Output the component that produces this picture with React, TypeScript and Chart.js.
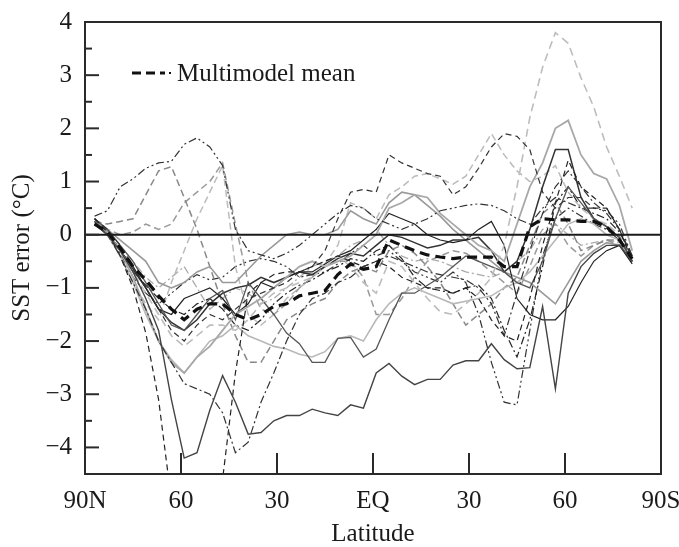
import React, { useEffect, useRef } from 'react';
import { Chart, registerables } from 'chart.js';

Chart.register(...registerables);

const FONT = "'Liberation Serif', 'Times New Roman', serif";
const FONT_SIZE = 25;

// Latitude of each sample (positive = north)
const latitudes = [87, 83, 79, 75, 71, 67, 63, 59, 55, 51, 47, 43, 39, 35, 31, 27, 23, 19, 15, 11, 7, 3, -1, -5, -9, -13, -17, -21, -25, -29, -33, -37, -41, -45, -49, -53, -57, -61, -65, -69, -73, -77, -81];

const xTickLabels = ['90N', '60', '30', 'EQ', '30', '60', '90S'];
const xTickDegrees = [0, 30, 60, 90, 120, 150, 180];
const yTickValues = [-4, -3, -2, -1, 0, 1, 2, 3, 4];

const multimodelMean = [0.2, 0.05, -0.25, -0.6, -0.85, -1.15, -1.4, -1.6, -1.4, -1.3,
  -1.3, -1.5, -1.6, -1.5, -1.35, -1.3, -1.15, -1.1, -1.05, -0.75,
  -0.55, -0.65, -0.6, -0.1, -0.2, -0.3, -0.38, -0.42, -0.45, -0.42,
  -0.42, -0.42, -0.6, -0.6, 0.15, 0.3, 0.28, 0.28, 0.25, 0.25,
  0.15, -0.1, -0.45];

const modelH = [0.2, 0.0, -0.3, -0.7, -1.2, -1.8, -3.1, -4.2, -4.1, -3.3,
  -2.65, -3.15, -3.75, -3.72, -3.5, -3.4, -3.4, -3.28, -3.35, -3.4,
  -3.2, -3.26, -2.6, -2.42, -2.66, -2.82, -2.72, -2.72, -2.45, -2.37,
  -2.37, -2.05, -2.35, -2.52, -2.5, -1.35, -2.9, -1.1, -0.6, -0.35,
  -0.2, -0.2, -0.5];

const modelG = [0.25, 0.0, -0.4, -0.9, -1.4, -2.0, -2.4, -2.8, -2.9, -3.0,
  -3.35, -4.1, -3.9, -3.15, -2.6, -2.0, -1.5, -1.2, -1.1, -0.9,
  -0.8, -0.6, -0.5, -0.4, -0.5, -0.6, -0.7, -0.75, -0.8, -0.85,
  -1.0, -1.3, -1.9, -1.1, -0.3, 0.4, 0.9, 1.2, 0.9, 0.6,
  0.4, 0.1, -0.4];

const modelF = [0.3, 0.05, -0.4, -1.0, -1.85, -3.1, -5.0, -6.0, -6.0, -5.8,
  -4.6, -2.6, -1.1, -0.9, -0.75, -0.7, -0.7, -0.6, -0.5, -0.4,
  -0.5, -0.6, -0.5, -0.6, -0.8, -0.9, -1.0, -1.0, -1.1, -1.0,
  -1.2, -1.6, -1.9, -2.0, -1.2, -0.2, 0.6, 1.4, 0.9, 0.7,
  0.5, 0.1, -0.5];

const modelC = [0.3, 0.1, -0.2, -0.6, -1.0, -1.4, -1.8, -2.0, -1.7, -1.5,
  -1.6, -1.4, -1.2, -1.1, -1.0, -0.9, -0.7, -0.6, -0.3, 0.3,
  0.8, 0.85, 0.8, 1.5, 1.35, 1.25, 1.15, 1.1, 0.75, 0.9,
  1.25, 1.65, 1.9, 1.85, 1.6, 0.8, 0.5, 0.7, 0.7, 0.5,
  0.5, 0.1, -0.45];

const modelD = [0.35, 0.45, 0.9, 1.05, 1.25, 1.35, 1.38, 1.7, 1.82, 1.65,
  1.3, 0.1, -0.3, -0.38, -0.45, -0.35, -0.2, 0.0, 0.2, 0.4,
  0.55, 0.5, 0.3, 0.2, 0.1, 0.2, 0.3, 0.45, 0.5, 0.55,
  0.58, 0.55, 0.45, 0.3, 0.2, 0.5, 0.7, 0.6, 0.5, 0.5,
  0.45, 0.2, -0.4];

const modelA = [0.2, 0.0, -0.3, -0.7, -1.1, -1.5, -1.9, -2.1, -1.9, -1.7,
  -1.7, -1.8, -1.6, -1.3, -1.1, -1.0, -0.9, -0.8, -0.6, -0.4,
  -0.6, -0.9, -1.1, -0.5, -0.6, -0.9, -1.2, -1.45, -1.5, -1.3,
  -1.1, -0.8, -0.2, 0.9, 2.2, 3.15, 3.8, 3.6, 2.95, 2.4,
  1.65, 1.1, 0.5];

const modelB = [0.25, 0.05, -0.3, -0.8, -1.4, -2.0, -2.4, -2.6, -2.3, -2.1,
  -1.8, -1.5, -1.35, -1.2, -1.0, -0.8, -0.6, -0.5, -0.6, -0.5,
  -0.4, -0.2, 0.0, 0.5, 0.6, 0.75, 0.7, 0.4, 0.2, 0.0,
  -0.2, -0.3, -0.5, 0.2, 0.9, 1.35, 2.0, 2.15, 1.5, 1.15,
  1.05, 0.55, -0.3];

const modelI = [0.3, 0.1, -0.2, -0.5, -0.9, -1.3, -1.7, -1.8, -1.5, -1.2,
  -1.05, -1.6, -0.9, -1.2, -1.5, -1.85, -2.05, -2.4, -2.4, -1.95,
  -1.93, -2.3, -2.15, -1.6, -1.1, -1.1, -0.95, -0.8, -0.6, -0.4,
  -0.5, -0.6, -0.7, -0.9, -1.0, -0.5, 0.3, 0.9, 0.6, 0.3,
  0.15, -0.05, -0.5];

const modelJ = [0.2, 0.0, -0.3, -0.6, -1.0, -1.4, -1.5, -1.2, -1.1, -1.0,
  -1.2, -1.5, -1.3, -0.9, -1.0, -0.8, -0.7, -0.7, -0.55, -0.4,
  -0.3, -0.1, 0.1, 0.4, 0.3, 0.2, 0.0, -0.1, -0.15, -0.1,
  0.1, 0.25, -0.2, -1.2, -1.5, -1.6, -1.6, -1.35, -0.9, -0.5,
  -0.3, -0.2, -0.55];

const modelK = [0.25, 0.05, -0.3, -0.65, -1.0, -1.4, -1.65, -1.8, -1.6, -1.3,
  -1.1, -1.0, -0.95, -0.8, -0.9, -0.8, -0.7, -0.75, -0.6, -0.45,
  -0.35, -0.4, -0.2, 0.0, -0.05, -0.15, -0.25, -0.2, -0.1, -0.1,
  -0.05, -0.3, -0.7, -0.5, 0.1, 0.9, 1.6, 1.6, 0.7, 0.3,
  0.15, -0.05, -0.5];

const modelL = [0.3, 0.1, -0.1, -0.3, -0.5, -0.9, -1.0, -0.9, -0.7, -0.6,
  -0.9, -0.9, -0.65, -0.4, -0.2, 0.0, 0.05, 0.0, 0.0, 0.1,
  0.45, 0.3, 0.2, 0.6, 0.8, 0.75, 0.55, 0.35, 0.1, -0.1,
  -0.3, -0.5, -0.7, -0.8, -0.9, -1.1, -1.3, -0.9, -0.5, -0.3,
  -0.15, -0.2, -0.5];

const modelM = [0.3, 0.0, -0.4, -0.9, -1.5, -2.0, -2.35, -2.6, -2.3, -2.0,
  -1.9, -1.7, -1.9, -2.0, -2.1, -2.15, -2.25, -2.3, -2.2, -1.95,
  -1.9, -2.0, -1.6, -1.3, -1.1, -1.0, -1.1, -1.2, -1.3, -1.25,
  -1.2, -1.15, -1.0, -0.9, -0.7, -0.4, -0.1, 0.2, 0.3, 0.2,
  0.0, -0.1, -0.5];

const modelE1 = [0.25, 0.2, 0.25, 0.3, 0.75, 1.2, 1.28, 0.7, 0.1, -0.6,
  -1.3, -1.9, -2.4, -2.4, -2.0, -1.6, -1.45, -1.3, -1.2, -0.9,
  -0.7, -0.6, -0.7, -0.3, -0.2, -0.35, -0.6, -0.9, -1.3, -1.7,
  -1.5, -1.3, -1.0, -0.8, -0.2, 0.4, 0.6, 0.2, -0.3, -0.2,
  -0.1, -0.1, -0.5];

const modelE2 = [0.25, 0.1, 0.0, 0.05, 0.2, 0.1, 0.2, 0.6, 0.8, 1.0,
  1.35, 0.2, -0.9, -1.4, -1.5, -1.3, -1.0, -0.8, -0.6, -0.5,
  -0.5, -0.8, -1.5, -1.5, -1.2, -0.8, -0.5, -0.4, -0.3, -0.35,
  -0.5, -0.7, -0.9, -1.1, -0.6, 0.0, 0.2, -0.2, -0.4, -0.2,
  -0.1, -0.2, -0.5];

const modelE3 = [0.2, 0.0, -0.4, -0.9, -1.3, -1.6, -0.9, -0.3, 0.3, 0.8,
  1.3, -0.6, -1.5, -1.7, -1.5, -1.2, -1.0, -0.8, -0.55, -0.2,
  0.6, 0.5, 0.3, 0.75, 0.9, 1.1, 1.15, 1.05, 0.95, 1.1,
  1.5, 1.9, 1.5, 1.2, 1.0, 1.1, 1.3, 0.8, 0.5, 0.3,
  0.2, 0.0, -0.5];

const modelN = [0.3, 0.1, -0.3, -0.7, -0.95, -1.2, -1.4, -1.5, -1.3, -1.2,
  -1.4, -1.7, -1.8, -1.6, -1.3, -1.1, -0.95, -0.85, -0.7, -0.6,
  -0.45, -0.5, -0.3, -0.2, -0.45, -0.8, -1.0, -1.05, -1.1, -1.0,
  -0.95, -1.2, -1.8, -2.3, -1.6, -0.6, 0.6, 0.9, 0.5, 0.4,
  0.3, 0.05, -0.4];

const modelO = [0.2, 0.0, -0.35, -0.8, -1.1, -1.3, -1.1, -0.9, -0.75, -0.85,
  -0.8, -0.6, -0.5, -0.45, -0.5, -0.6, -0.8, -0.75, -0.7, -0.55,
  -0.35, -0.2, -0.4, -0.3, -0.5, -0.7, -0.8, -0.9, -0.7, -0.9,
  -1.5, -2.4, -3.15, -3.2, -1.8, -0.4, 0.3, 0.5, 0.35, 0.2,
  0.1, -0.1, -0.5];

const modelQ = [0.3, 0.1, -0.2, -0.5, -0.8, -1.0, -0.8, -0.6, -1.0, -1.4,
  -1.2, -1.0, -1.1, -1.3, -1.2, -1.0, -0.8, -0.6, -0.5, -0.4,
  -0.2, -0.1, 0.1, -0.2, -0.4, -0.5, -0.45, -0.5, -0.6, -0.7,
  -0.75, -0.8, -0.7, -0.5, -0.3, 0.1, 0.2, 0.0, -0.2, -0.15,
  -0.1, -0.15, -0.5];

const DASH = [7, 4];
const DASHDOT = [8, 3, 2, 3];
const DASHDOTDOT = [8, 3, 2, 3, 2, 3];

const seriesList = [
  { label: 'Multimodel mean', values: multimodelMean, color: '#111', width: 3.2, dash: [10, 6] },
  { label: 'H', values: modelH, color: '#444', width: 1.4, dash: [] },
  { label: 'G', values: modelG, color: '#333', width: 1.2, dash: DASHDOT },
  { label: 'F', values: modelF, color: '#222', width: 1.2, dash: [6, 4] },
  { label: 'C', values: modelC, color: '#333', width: 1.2, dash: [6, 4] },
  { label: 'D', values: modelD, color: '#333', width: 1.2, dash: DASHDOTDOT },
  { label: 'A', values: modelA, color: '#bdbdbd', width: 1.6, dash: [8, 5] },
  { label: 'B', values: modelB, color: '#a8a8a8', width: 1.8, dash: [] },
  { label: 'I', values: modelI, color: '#555', width: 1.3, dash: [] },
  { label: 'J', values: modelJ, color: '#222', width: 1.2, dash: [] },
  { label: 'K', values: modelK, color: '#333', width: 1.5, dash: [] },
  { label: 'L', values: modelL, color: '#999', width: 1.6, dash: [] },
  { label: 'M', values: modelM, color: '#b8b8b8', width: 1.6, dash: [] },
  { label: 'E1', values: modelE1, color: '#888', width: 1.5, dash: DASH },
  { label: 'E2', values: modelE2, color: '#999', width: 1.5, dash: DASH },
  { label: 'E3', values: modelE3, color: '#bbb', width: 1.5, dash: DASH },
  { label: 'N', values: modelN, color: '#222', width: 1.2, dash: DASHDOT },
  { label: 'O', values: modelO, color: '#333', width: 1.2, dash: DASHDOTDOT },
  { label: 'Q', values: modelQ, color: '#aaa', width: 1.3, dash: DASHDOT },
];

const framePlugin = {
  id: 'framePlugin',
  afterDatasetsDraw(chart: any) {
    const { ctx, chartArea, scales } = chart;
    const y0 = scales.y.getPixelForValue(0);
    ctx.save();
    ctx.strokeStyle = '#1a1a1a';
    ctx.lineWidth = 2;
    ctx.beginPath();
    ctx.moveTo(chartArea.left, y0);
    ctx.lineTo(chartArea.right, y0);
    ctx.stroke();
    ctx.restore();
  },
  afterDraw(chart: any) {
    const { ctx, chartArea, scales } = chart;
    const { left, right, top, bottom } = chartArea;
    ctx.save();
    ctx.strokeStyle = '#2a2a2a';
    ctx.lineWidth = 2;
    ctx.strokeRect(left, top, right - left, bottom - top);
    // y ticks (inward): major at integers, minor at halves
    for (let v = -4.5; v <= 4; v += 0.5) {
      const py = scales.y.getPixelForValue(v);
      const major = Number.isInteger(v);
      ctx.beginPath();
      ctx.moveTo(left, py);
      ctx.lineTo(left + (major ? 14 : 7), py);
      ctx.stroke();
    }
    // x ticks (inward)
    xTickDegrees.slice(1, -1).forEach((d) => {
      const px = scales.x.getPixelForValue(d);
      ctx.beginPath();
      ctx.moveTo(px, bottom);
      ctx.lineTo(px, bottom - 21);
      ctx.stroke();
    });
    // legend
    const lx = left + 47;
    const ly = top + 51;
    ctx.strokeStyle = '#111';
    ctx.lineWidth = 3.2;
    ctx.setLineDash([9, 5]);
    ctx.beginPath();
    ctx.moveTo(lx, ly);
    ctx.lineTo(lx + 33, ly);
    ctx.stroke();
    ctx.setLineDash([]);
    ctx.fillStyle = '#111';
    ctx.fillRect(lx + 37, ly - 1, 2, 2);
    ctx.font = `${FONT_SIZE}px ${FONT}`;
    ctx.textBaseline = 'middle';
    ctx.textAlign = 'left';
    ctx.fillStyle = '#1a1a1a';
    ctx.fillText('Multimodel mean', lx + 45, ly + 1);
    ctx.restore();
  },
};

export default function App() {
  const ref = useRef<HTMLCanvasElement>(null);
  useEffect(() => {
    const datasets = seriesList.map((s) => ({
      label: s.label,
      data: latitudes.map((lat, i) => ({ x: 90 - lat, y: s.values[i] })),
      borderColor: s.color,
      borderWidth: s.width,
      borderDash: s.dash,
      pointRadius: 0,
      tension: 0,
      fill: false,
    }));
    const chart = new Chart(ref.current as HTMLCanvasElement, {
      type: 'line',
      data: { datasets },
      plugins: [framePlugin],
      options: {
        animation: false,
        responsive: false,
        layout: { padding: { top: 22, right: 18, left: 0, bottom: 0 } },
        plugins: { legend: { display: false }, tooltip: { enabled: false } },
        scales: {
          x: {
            type: 'linear',
            min: 0,
            max: 180,
            grid: { display: false, drawTicks: false },
            border: { display: false },
            afterBuildTicks: (scale: any) => {
              scale.ticks = xTickDegrees.map((v) => ({ value: v }));
            },
            afterFit: (scale: any) => {
              scale.height = 73;
              scale.paddingLeft = 0;
              scale.paddingRight = 0;
            },
            ticks: {
              autoSkip: false,
              maxRotation: 0,
              padding: 12,
              color: '#1a1a1a',
              font: { family: FONT, size: FONT_SIZE },
              callback: (v: any) => xTickLabels[xTickDegrees.indexOf(Number(v))] ?? '',
            },
            title: {
              display: true,
              text: 'Latitude',
              color: '#1a1a1a',
              font: { family: FONT, size: FONT_SIZE, lineHeight: 1 },
              padding: { top: 0, bottom: 0 },
            },
          },
          y: {
            type: 'linear',
            min: -4.5,
            max: 4,
            grid: { display: false, drawTicks: false },
            border: { display: false },
            afterBuildTicks: (scale: any) => {
              scale.ticks = yTickValues.map((v) => ({ value: v }));
            },
            afterFit: (scale: any) => {
              scale.width = 85;
              scale.paddingTop = 0;
              scale.paddingBottom = 0;
            },
            ticks: {
              padding: 13,
              color: '#1a1a1a',
              font: { family: FONT, size: FONT_SIZE },
              callback: (v: any) => (Number(v) < 0 ? '\u2212' + Math.abs(Number(v)) : String(v)),
            },
            title: {
              display: true,
              text: 'SST error (°C)',
              color: '#1a1a1a',
              font: { family: FONT, size: FONT_SIZE, lineHeight: 1 },
              padding: { top: 10, bottom: 0 },
            },
          },
        },
      },
    });
    return () => chart.destroy();
  }, []);
  return (
    <div style={{ position: 'fixed', left: 0, top: 0, width: 679, height: 547, background: '#fff' }}>
      <canvas ref={ref} width={679} height={547} style={{ display: 'block' }} />
    </div>
  );
}
